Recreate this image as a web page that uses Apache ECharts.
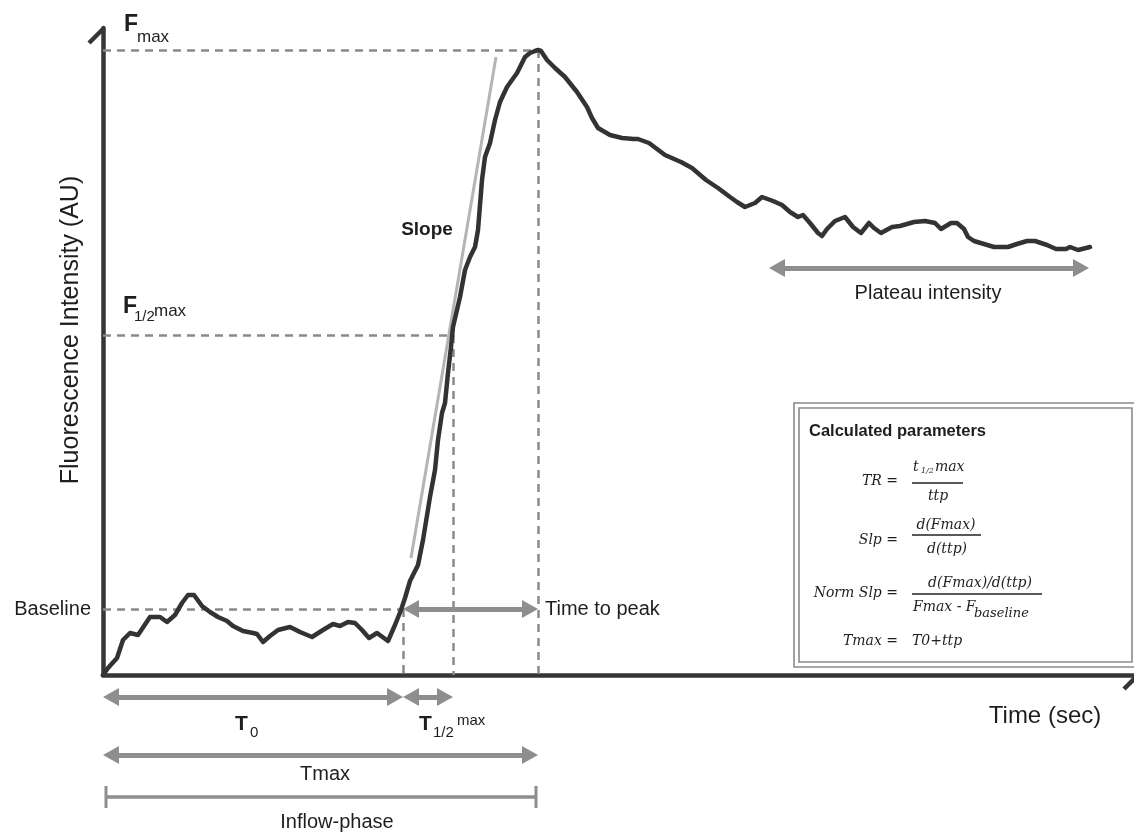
<!DOCTYPE html>
<html><head><meta charset="utf-8">
<script src="https://cdn.jsdelivr.net/npm/echarts@6/dist/echarts.min.js"></script>
<style>html,body{margin:0;padding:0;background:#fff}#c{width:1134px;height:834px}</style>
</head><body><div id="c"></div>
<script>
// ---- data (time units / arbitrary intensity units) ----
const times = [0,5,14,20,27,35,47,57,64,72,79,85,91,99,107,115,124,130,140,150,154,160,167,175,187,197,209,220,230,237,245,252,259,266,274,285,292,298,302,307,315,320,327,332,335,339,342,345,348,350,357,362,367,372,375,379,382,387,392,397,404,414,419,422,427,432,435,438,444,452,462,474,484,489,495,507,519,531,535,546,562,578,589,603,615,627,634,642,652,659,670,679,687,695,700,707,715,719,724,732,742,750,758,766,771,778,789,797,811,822,832,838,848,854,861,865,871,881,891,905,914,924,932,944,953,963,967,975,987];
const intensity = [0,7,17,35,42,40,58,58,53,60,72,80,80,69,63,58,54,49,44,42,41,33,39,45,48,43,38,45,51,49,53,52,45,37,42,34,50,65,77,94,110,135,178,205,235,262,272,302,328,348,378,405,418,428,445,495,518,532,555,573,588,602,612,618,622,624,625,624,615,607,598,583,568,557,547,540,537,536,536,532,520,513,507,495,487,478,473,468,472,478,474,470,463,458,460,452,442,439,446,454,458,448,442,452,447,442,448,449,453,454,452,446,452,452,446,438,434,431,428,428,431,434,434,430,426,426,428,425,428];

const fMax = 625, tPeak = 435;        // peak
const fHalf = 340, tHalf = 350;       // half max
const fBase = 66, t0 = 300;           // baseline / onset
const slopeX = [308, 393];
const slopeY = [117, 618];
const plateauX = [666, 986];
const plateauLevel = 407;
const rowT0 = -22, rowTmax = -80, rowInflow = -122;   // rows below the time axis
const xMax = 1031, yMax = 647, belowMin = -159;

const textLabels = {
  yName: 'Fluorescence Intensity (AU)', xName: 'Time (sec)',
  slope: 'Slope', baseline: 'Baseline', ttp: 'Time to peak', plateau: 'Plateau intensity',
  tmax: 'Tmax', inflow: 'Inflow-phase', box: 'Calculated parameters'
};

const chart = echarts.init(document.getElementById('c'), null, {renderer: 'canvas'});

const dashStyle = {type: [8, 6], color: '#8a8a8a', width: 2.5};
const arrowColor = '#8e8e8e';
const SANS = '"Liberation Sans", Arial, sans-serif';
const SERIF = '"DejaVu Serif", serif';
const HEAD = 16; // arrow head length (x units == px here)

function seg(x1, y1, x2, y2) { return [{coord: [x1, y1]}, {coord: [x2, y2]}]; }
// double arrow whose tips land on x1 and x2 (symbol is centred on the end point)
function arrow(x1, x2, y) { return seg(x1 + HEAD / 2, y, x2 - HEAD / 2, y); }

chart.setOption({
  animation: false,
  backgroundColor: '#fff',
  grid: [
    {left: 103, right: 0, top: 28, bottom: 159},
    {left: 103, right: 0, top: 675, bottom: 0}
  ],
  xAxis: [
    {type: 'value', gridIndex: 0, min: 0, max: xMax,
     axisLine: {show: true, lineStyle: {color: '#363636', width: 4.5}},
     axisTick: {show: false}, axisLabel: {show: false}, splitLine: {show: false}},
    {type: 'value', gridIndex: 1, min: 0, max: xMax, show: false}
  ],
  yAxis: [
    {type: 'value', gridIndex: 0, min: 0, max: yMax,
     axisLine: {show: true, lineStyle: {color: '#363636', width: 4.5}},
     axisTick: {show: false}, axisLabel: {show: false}, splitLine: {show: false}},
    {type: 'value', gridIndex: 1, min: belowMin, max: 0, show: false}
  ],
  series: [
    { // dashed guides
      type: 'line', data: [], clip: false, xAxisIndex: 0, yAxisIndex: 0, z: 1,
      markLine: {silent: true, symbol: ['none', 'none'], label: {show: false},
        lineStyle: dashStyle, emphasis: {disabled: true},
        data: [
          seg(0, fMax, tPeak, fMax), seg(tPeak, fMax, tPeak, 0),
          seg(0, fHalf, tHalf, fHalf), seg(tHalf, fHalf, tHalf, 0),
          seg(0, fBase, t0, fBase), seg(t0, fBase, t0, 0)
        ]}
    },
    { // slope tangent
      type: 'line', data: [], clip: false, xAxisIndex: 0, yAxisIndex: 0, z: 2,
      markLine: {silent: true, symbol: ['none', 'none'], label: {show: false},
        lineStyle: {type: 'solid', color: '#b4b4b4', width: 3}, emphasis: {disabled: true},
        data: [seg(slopeX[0], slopeY[0], slopeX[1], slopeY[1])]}
    },
    { // arrows inside plot
      type: 'line', data: [], clip: false, xAxisIndex: 0, yAxisIndex: 0, z: 2,
      markLine: {silent: true, symbol: ['triangle', 'triangle'], symbolSize: [18, HEAD],
        label: {show: false}, lineStyle: {type: 'solid', color: arrowColor, width: 5}, emphasis: {disabled: true},
        data: [arrow(t0, tPeak, fBase), arrow(plateauX[0], plateauX[1], plateauLevel)]}
    },
    { // arrows below the axis
      type: 'line', data: [], clip: false, xAxisIndex: 1, yAxisIndex: 1, z: 2,
      markLine: {silent: true, symbol: ['triangle', 'triangle'], symbolSize: [18, HEAD],
        label: {show: false}, lineStyle: {type: 'solid', color: arrowColor, width: 5}, emphasis: {disabled: true},
        data: [arrow(0, t0, rowT0), arrow(t0, tHalf, rowT0), arrow(0, tPeak, rowTmax)]}
    },
    { // inflow phase bar
      type: 'line', data: [], clip: false, xAxisIndex: 1, yAxisIndex: 1, z: 2,
      markLine: {silent: true, symbol: ['rect', 'rect'], symbolSize: [22, 3],
        label: {show: false}, lineStyle: {type: 'solid', color: arrowColor, width: 3.5}, emphasis: {disabled: true},
        data: [seg(3, rowInflow, tPeak - 2, rowInflow)]}
    },
    { // the curve
      type: 'line', xAxisIndex: 0, yAxisIndex: 0, z: 5,
      data: times.map((t, i) => [t, intensity[i]]),
      showSymbol: false, symbol: 'none', smooth: false,
      lineStyle: {color: '#333333', width: 4.5, join: 'round', cap: 'round'}
    }
  ]
});

// ---- text & layout decorations ----
const yTip = chart.convertToPixel({xAxisIndex: 0, yAxisIndex: 0}, [0, yMax]);
const xTip = chart.convertToPixel({xAxisIndex: 0, yAxisIndex: 0}, [xMax, 0]);

function txt(x, y, text, font, align, extra) {
  return Object.assign({type: 'text', x: x, y: y, z: 100,
    style: {text: text, font: font, fill: '#1e1e1e', align: align || 'left', verticalAlign: 'middle'}}, extra || {});
}
function hline(x1, x2, y) {
  return {type: 'line', z: 100, shape: {x1: x1, y1: y, x2: x2, y2: y}, style: {stroke: '#222', lineWidth: 1.3}};
}

const F = (s) => s + 'px ' + SANS;
const FB = (s) => 'bold ' + s + 'px ' + SANS;
const FI = (s) => 'italic ' + s + 'px ' + SERIF;

chart.setOption({
  graphic: [
    // axis barbs
    {type: 'polyline', z: 50, shape: {points: [[yTip[0] - 14, yTip[1] + 15], [yTip[0] + 1, yTip[1]]]},
      style: {stroke: '#363636', lineWidth: 4.5, fill: null}},
    {type: 'polyline', z: 50, shape: {points: [[xTip[0] - 10, xTip[1] + 14], [xTip[0] + 3, xTip[1] + 1]]},
      style: {stroke: '#363636', lineWidth: 4.5, fill: null}},
    // axis names
    txt(71, 330, textLabels.yName, F(25), 'center', {rotation: Math.PI / 2}),
    txt(1045, 716, textLabels.xName, F(24), 'center'),
    // F max
    txt(124, 25, 'F', FB(23)),
    txt(137, 37, 'max', F(17)),
    // F 1/2 max
    txt(123, 307, 'F', FB(23)),
    txt(134, 317, '1/2', F(15)),
    txt(154, 311, 'max', F(17)),
    txt(427, 230, textLabels.slope, FB(19), 'center'),
    txt(91, 609, textLabels.baseline, F(20), 'right'),
    txt(545, 609, textLabels.ttp, F(20)),
    txt(928, 293, textLabels.plateau, F(20), 'center'),
    // T0
    txt(235, 724.5, 'T', FB(21)),
    txt(250, 732.5, '0', F(15)),
    // T1/2 max
    txt(419, 724.5, 'T', FB(21)),
    txt(433, 732.5, '1/2', F(15)),
    txt(457, 721, 'max', F(15)),
    txt(325, 774, textLabels.tmax, F(20), 'center'),
    txt(337, 822, textLabels.inflow, F(20), 'center'),
    // box
    {type: 'rect', z: 90, shape: {x: 794, y: 403, width: 346, height: 264},
      style: {fill: '#fff', stroke: '#8a8a8a', lineWidth: 1.6}},
    {type: 'rect', z: 91, shape: {x: 799, y: 408, width: 333, height: 254},
      style: {fill: null, stroke: '#8a8a8a', lineWidth: 1.6}},
    txt(809, 431, textLabels.box, FB(16.5)),
    txt(898, 481, 'TR =', FI(14), 'right'),
    txt(913, 467, 't', FI(14)),
    txt(921, 471, '1/2', FI(8)),
    txt(935, 467, 'max', FI(14)),
    hline(912, 963, 483),
    txt(938, 496, 'ttp', FI(14), 'center'),
    txt(898, 540, 'Slp =', FI(14), 'right'),
    txt(946, 525, 'd(Fmax)', FI(14), 'center'),
    hline(912, 981, 535),
    txt(947, 549, 'd(ttp)', FI(14), 'center'),
    txt(898, 593, 'Norm Slp =', FI(14), 'right'),
    txt(980, 583, 'd(Fmax)/d(ttp)', FI(14), 'center'),
    hline(912, 1042, 594),
    txt(913, 607, 'Fmax - F', FI(14)),
    txt(974, 614, 'baseline', FI(13)),
    txt(898, 641, 'Tmax =', FI(14), 'right'),
    txt(912, 641, 'T0+ttp', FI(14))
  ]
});
</script></body></html>
